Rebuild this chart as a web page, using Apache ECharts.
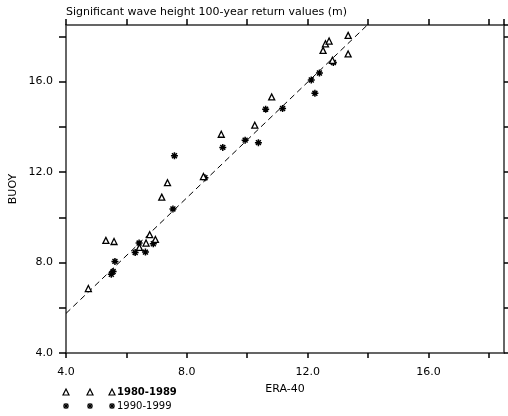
<!DOCTYPE html>
<html>
<head>
<meta charset="utf-8">
<script src="https://cdn.jsdelivr.net/npm/echarts@6/dist/echarts.min.js"></script>
<style>
  html, body { margin: 0; padding: 0; background: #fff; }
  #chart { width: 508px; height: 416px; }
</style>
</head>
<body>
<div id="chart"></div>
<script>
// 1980-1989 (triangles)
const era80 = [4.74, 5.32, 5.59, 6.43, 6.65, 6.77, 6.96, 7.17, 7.36, 8.55, 9.14, 10.25, 10.81, 12.51, 12.59, 12.71, 12.82, 13.34, 13.34]
const buoy80 = [6.85, 8.98, 8.93, 8.67, 8.86, 9.23, 9.02, 10.89, 11.53, 11.8, 13.67, 14.07, 15.32, 17.38, 17.67, 17.79, 16.94, 18.04, 17.22]
// 1990-1999 (asterisks)
const era90 = [5.5, 5.56, 5.62, 6.29, 6.42, 6.63, 6.89, 7.54, 7.59, 8.6, 9.19, 9.93, 10.37, 10.61, 11.17, 12.12, 12.24, 12.39, 12.85]
const buoy90 = [7.48, 7.6, 8.05, 8.44, 8.86, 8.46, 8.83, 10.37, 12.72, 11.75, 13.09, 13.41, 13.3, 14.78, 14.81, 16.07, 15.48, 16.38, 16.84]
// dashed fit line
const fitX = [4.0, 14.0]
const fitY = [5.75, 18.53]

const xTicks = [4, 8, 12, 16]
const yTicks = [4, 8, 12, 16]

const starPath = 'path://M0,-10L0,10M-10,0L10,0M-7,-7L7,7M-7,7L7,-7'

const zip = (a, b) => a.map((v, i) => [v, b[i]])

const chart = echarts.init(document.getElementById('chart'))

const fontFam = 'DejaVu Sans'
const axisLineStyle = { color: '#333', width: 1.5 }

// legend drawn by hand: three samples then the label
const legendRows = [
  { y: 392, label: '1980-1989', bold: true, star: false },
  { y: 406, label: '1990-1999', bold: false, star: true }
]
const sampleX = [66, 90, 112]
const graphics = []
legendRows.forEach((row) => {
  sampleX.forEach((sx) => {
    if (row.star) {
      const arms = [[0, -3, 0, 3], [-3, 0, 3, 0], [-2.2, -2.2, 2.2, 2.2], [-2.2, 2.2, 2.2, -2.2]]
      arms.forEach((a) => {
        graphics.push({
          type: 'line',
          shape: { x1: sx + a[0], y1: row.y + a[1], x2: sx + a[2], y2: row.y + a[3] },
          style: { stroke: '#000', lineWidth: 1.3 }
        })
      })
    } else {
      graphics.push({
        type: 'polygon',
        shape: { points: [[sx, row.y - 3], [sx + 3, row.y + 3], [sx - 3, row.y + 3]] },
        style: { stroke: '#000', lineWidth: 1.2, fill: '#fff' }
      })
    }
  })
  graphics.push({
    type: 'text',
    x: 117, y: row.y,
    style: {
      text: row.label,
      font: (row.bold ? 'bold ' : '') + '10px ' + fontFam,
      fill: '#000',
      verticalAlign: 'middle'
    }
  })
})

const option = {
  animation: false,
  title: {
    text: 'Significant wave height 100-year return values (m)',
    left: 61,
    top: 2,
    textStyle: { fontSize: 11, fontWeight: 'normal', fontFamily: fontFam, color: '#000' }
  },
  grid: { left: 66, right: 4, top: 25, bottom: 63 },
  xAxis: [
    {
      type: 'value', min: 4, max: 18.5, interval: 2,
      name: 'ERA-40', nameLocation: 'middle', nameGap: 31, nameMoveOverlap: false,
      nameTextStyle: { fontSize: 11, fontFamily: fontFam, color: '#000' },
      axisLine: { lineStyle: axisLineStyle },
      axisTick: { length: 5, lineStyle: { color: '#000', width: 1.5 } },
      splitLine: { show: false },
      axisLabel: {
        margin: 14, fontSize: 11, fontFamily: fontFam, color: '#000',
        formatter: (v) => (xTicks.includes(v) ? v.toFixed(1) : ''),
        showMaxLabel: false
      }
    },
    {
      type: 'value', position: 'top', min: 4, max: 18.5, interval: 2,
      axisLine: { lineStyle: axisLineStyle },
      axisTick: { length: 6, lineStyle: { color: '#000', width: 1.5 } },
      axisLabel: { show: false },
      splitLine: { show: false }
    }
  ],
  yAxis: [
    {
      type: 'value', min: 4, max: 18.5, interval: 2,
      name: 'BUOY', nameLocation: 'middle', nameGap: 47, nameMoveOverlap: false,
      nameTextStyle: { fontSize: 11, fontFamily: fontFam, color: '#000' },
      axisLine: { lineStyle: axisLineStyle },
      axisTick: { length: 7, lineStyle: { color: '#000', width: 1.5 } },
      splitLine: { show: false },
      axisLabel: {
        margin: 13, fontSize: 11, fontFamily: fontFam, color: '#000',
        formatter: (v) => (yTicks.includes(v) ? v.toFixed(1) : ''),
        showMaxLabel: false
      }
    },
    {
      type: 'value', position: 'right', min: 4, max: 18.5, interval: 2,
      axisLine: { lineStyle: axisLineStyle },
      axisTick: { length: 5, lineStyle: { color: '#000', width: 1.5 } },
      axisLabel: { show: false },
      splitLine: { show: false }
    }
  ],
  graphic: graphics,
  series: [
    {
      name: 'fit',
      type: 'line',
      data: zip(fitX, fitY),
      showSymbol: false,
      lineStyle: { color: '#000', width: 1, type: [6, 4] },
      z: 1
    },
    {
      name: '1980-1989',
      type: 'scatter',
      data: zip(era80, buoy80),
      symbol: 'triangle',
      symbolSize: 6,
      itemStyle: { color: '#fff', borderColor: '#000', borderWidth: 1.3, opacity: 1 },
      z: 3
    },
    {
      name: '1990-1999',
      type: 'scatter',
      data: zip(era90, buoy90),
      symbol: starPath,
      symbolSize: 7,
      itemStyle: { color: '#000', borderColor: '#000', borderWidth: 1.5, opacity: 1 },
      z: 2
    }
  ]
}

chart.setOption(option)
</script>
</body>
</html>
